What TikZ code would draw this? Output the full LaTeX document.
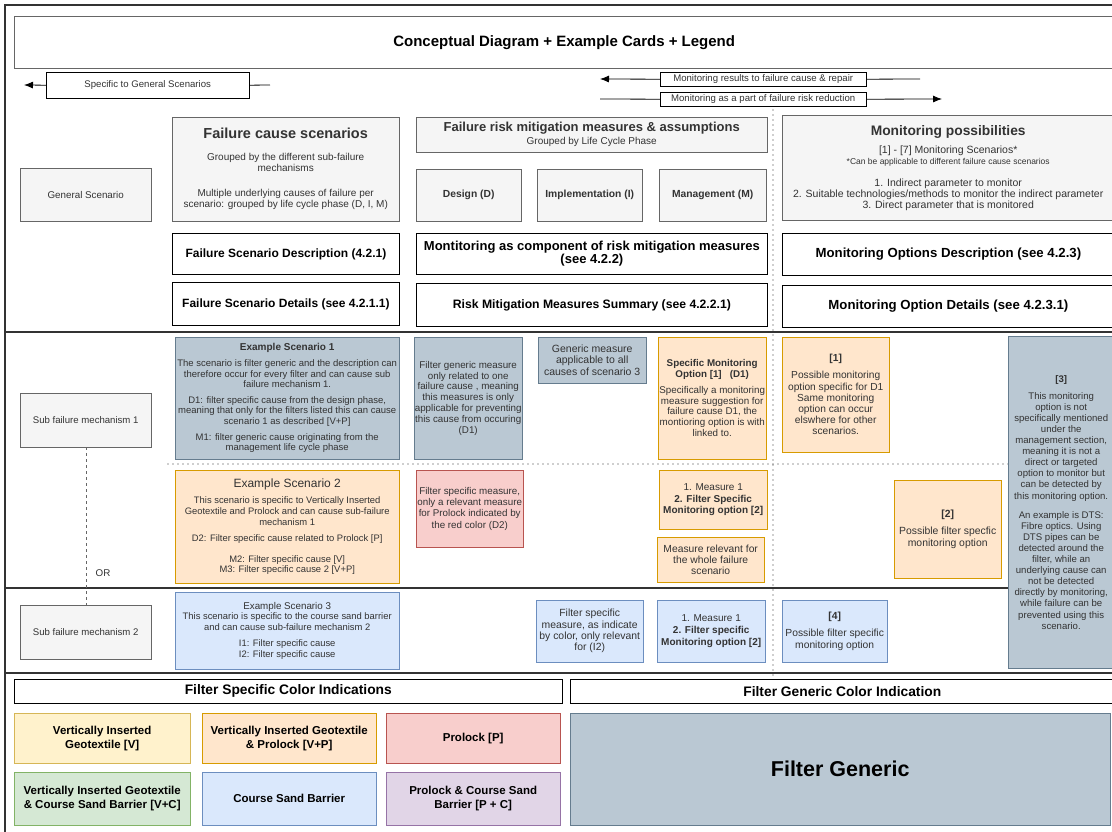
\documentclass[tikz,border=0pt]{standalone}
\usepackage{fontspec}
\setmainfont{Liberation Sans}
\usepackage{tikz}
\usepackage{xcolor}
\usetikzlibrary{shapes}
\usetikzlibrary{positioning}
\usetikzlibrary{arrows.meta}

\definecolor{gfill}{HTML}{F5F5F5}
\definecolor{gline}{HTML}{666666}
\definecolor{gtext}{HTML}{333333}
\definecolor{genfill}{HTML}{BAC8D3}
\definecolor{genline}{HTML}{23445D}
\definecolor{orfill}{HTML}{FFE6CC}
\definecolor{orline}{HTML}{D79B00}
\definecolor{redfill}{HTML}{F8CECC}
\definecolor{redline}{HTML}{B85450}
\definecolor{blufill}{HTML}{DAE8FC}
\definecolor{bluline}{HTML}{6C8EBF}
\definecolor{yelfill}{HTML}{FFF2CC}
\definecolor{yelline}{HTML}{D6B656}
\definecolor{grnfill}{HTML}{D5E8D4}
\definecolor{grnline}{HTML}{82B366}
\definecolor{purfill}{HTML}{E1D5E7}
\definecolor{purline}{HTML}{9673A6}

\newcommand{\fs}[2]{\fontsize{#1}{#2}\selectfont}

\begin{document}
\begin{tikzpicture}[x=1pt,y=-1pt,
    box/.style={anchor=north west,inner sep=0pt,align=center,text=gtext,font=\fs{9.5}{10.7}},
    wh/.style 2 args={minimum width=#1pt,minimum height=#2pt},
    graybox/.style={box,fill=gfill,draw=gline},
    headbox/.style={box,fill=white,draw=black,text=black,line width=0.8pt},
    tagbox/.style={box,fill=white,draw=black,font=\fs{9.6}{10}},
    genbox/.style={box,fill=genfill,draw=genline!70},
    orbox/.style={box,fill=orfill,draw=orline},
    redbox/.style={box,fill=redfill,draw=redline},
    blubox/.style={box,fill=blufill,draw=bluline},
    yelbox/.style={box,fill=yelfill,draw=yelline},
    grnbox/.style={box,fill=grnfill,draw=grnline},
    purbox/.style={box,fill=purfill,draw=purline},
    legbox/.style={text=black,font=\fs{11.5}{14}\bfseries},
    arrowline/.style={line width=0.8pt,-{Latex[length=9pt,width=7pt]}},
    plainline/.style={line width=0.8pt},
    rowline/.style={line width=1.4pt,draw=gtext},
    dotline/.style={line width=1.3pt,draw=gtext,line cap=round,dash pattern=on 0pt off 5pt}]

        \fill[white] (0,0) rectangle (1112,832);
        \useasboundingbox (0,0) rectangle (1112,832);
        \draw[line width=2pt,draw=gtext] (5,832) -- (5,5) -- (1112,5);

        \node[box,draw=gline,fill=white,wh={1100}{52},text=black,font=\fs{15}{18}\bfseries] (title) at (14,16) {Conceptual Diagram + Example Cards + Legend};

        \node[tagbox,wh={203}{26}] (specgen) at (46,72) {Specific to General Scenarios};
        \coordinate (specgenL) at (24,85);
        \coordinate (specgenR) at (270,85);
        \draw[arrowline] (specgen.west) -- (specgenL);
        \draw[plainline] (specgen.east) -- (specgenR);

        \node[tagbox,wh={206}{14}] (monres) at (660,72) {Monitoring results to failure cause \& repair};
        \coordinate (monresL) at (600,79);
        \coordinate (monresR) at (920,79);
        \draw[arrowline] (monres.west) -- (monresL);
        \draw[plainline] (monres.east) -- (monresR);
        \node[tagbox,wh={206}{14}] (monpart) at (660,92) {Monitoring as a part of failure risk reduction};
        \coordinate (monpartL) at (600,99);
        \coordinate (monpartR) at (942,99);
        \draw[plainline] (monpartL) -- (monpart.west);
        \draw[arrowline] (monpart.east) -- (monpartR);

        \node[graybox,wh={131}{53},font=\fs{9.8}{11}] (general) at (20,168) {General Scenario};
        \node[graybox,wh={227}{104},font=\fs{10}{11}] (causes) at (172,117) {{\fs{14.5}{16}\bfseries Failure cause scenarios}\\[11pt] Grouped by the different sub-failure\\ mechanisms\\[14pt] Multiple underlying causes of failure per\\ scenario: grouped by life cycle phase (D, I, M)};
        \node[headbox,wh={227}{41},font=\fs{12}{13}\bfseries] (scendesc) at (172,233) {Failure Scenario Description (4.2.1)};
        \node[headbox,wh={227}{43},font=\fs{12}{13}\bfseries] (scendet) at (172,282) {Failure Scenario Details (see 4.2.1.1)};

        \node[graybox,wh={351}{35},font=\fs{10}{11}] (mitig) at (416,117) {{\fs{13}{14}\bfseries Failure risk mitigation measures \& assumptions}\\[2pt] Grouped by Life Cycle Phase};
        \node[graybox,wh={105}{52},font=\fs{10.3}{11}\bfseries] (design) at (416,169) {Design (D)};
        \node[graybox,wh={105}{52},font=\fs{10.3}{11}\bfseries] (implem) at (537,169) {Implementation (I)};
        \node[graybox,wh={107}{52},font=\fs{10.3}{11}\bfseries] (manage) at (659,169) {Management (M)};
        \node[headbox,wh={351}{41},font=\fs{13}{11.5}\bfseries] (moncomp) at (416,233) {Montitoring as component of risk mitigation measures\\ (see 4.2.2)};
        \node[headbox,wh={351}{43},font=\fs{12.2}{13}\bfseries] (risksum) at (416,283) {Risk Mitigation Measures Summary (see 4.2.2.1)};

        \node[graybox,wh={332}{105},font=\fs{10.5}{10.6}] (monposs) at (782,115) {{\fs{13.8}{15}\bfseries Monitoring possibilities}\\[8pt] [1] - [7] Monitoring Scenarios*\\ {\fs{8.5}{9.5}*Can be applicable to different failure cause scenarios}\\[12pt] 1. Indirect parameter to monitor\\ 2. Suitable technologies/methods to monitor the indirect parameter\\ 3. Direct parameter that is monitored};
        \node[headbox,wh={332}{42},font=\fs{13.2}{14}\bfseries] (mondesc) at (782,233) {Monitoring Options Description (see 4.2.3)};
        \node[headbox,wh={332}{42},font=\fs{13.2}{14}\bfseries] (mondet) at (782,285) {Monitoring Option Details (see 4.2.3.1)};

        \draw[rowline] (6,332) -- (1112,332);
        \draw[rowline] (6,588) -- (1112,588);
        \draw[rowline] (6,673) -- (1112,673);
        \draw[dotline] (168,464) -- (1008,464);
        \draw[dotline] (773,110) -- (773,680);

        \node[graybox,wh={131}{54},font=\fs{9.6}{11}] (sub1) at (20,393) {Sub failure mechanism 1};
        \node[genbox,wh={224}{122},font=\fs{9.5}{10.6}] (ex1) at (175,337) {{\fs{10}{11}\bfseries Example Scenario 1}\\[5pt] The scenario is filter generic and the description can\\ therefore occur for every filter and can cause sub\\ failure mechanism 1.\\[5pt] D1: filter specific cause from the design phase,\\ meaning that only for the filters listed this can cause\\ scenario 1 as described [V+P]\\[5pt] M1: filter generic cause originating from the\\ management life cycle phase};
        \node[genbox,wh={108}{122},font=\fs{9.8}{10.8}] (genmeas) at (414,337) {Filter generic measure\\ only related to one\\ failure cause , meaning\\ this measures is only\\ applicable for preventing\\ this cause from occuring\\ (D1)};
        \node[genbox,wh={108}{46},font=\fs{10.5}{11.3}] (genall) at (538,337) {Generic measure\\ applicable to all\\ causes of scenario 3};
        \node[orbox,wh={108}{122},font=\fs{9.8}{10.5}] (specmon) at (658,337) {{\bfseries Specific Monitoring}\\ {\bfseries Option [1] \ \ (D1)}\\[6pt] Specifically a monitoring\\ measure suggestion for\\ failure cause D1, the\\ montioring option is with\\ [1] linked to.};
        \node[orbox,wh={107}{115},font=\fs{10.2}{11.2}] (mon1) at (782,337) {{\bfseries [1]}\\[6pt] Possible monitoring\\ option specific for D1\\ Same monitoring\\ option can occur\\ elswhere for other\\ scenarios.};
        \node[genbox,wh={106}{332},font=\fs{9.6}{11.1}] (mon3) at (1008,336) {{\bfseries [3]}\\[6pt] This monitoring\\ option is not\\ specifically mentioned\\ under the\\ management section,\\ meaning it is not a\\ direct or targeted\\ option to monitor but\\ can be detected by\\ this monitoring option.\\[8pt] An example is DTS:\\ Fibre optics. Using\\ DTS pipes can be\\ detected around the\\ filter, while an\\ underlying cause can\\ not be detected\\ directly by monitoring,\\ while failure can be\\ prevented using this\\ scenario.};

        \node[orbox,wh={224}{113},font=\fs{9.4}{10.6}] (ex2) at (175,470) {{\fs{12}{13}Example Scenario 2}\\[6pt] This scenario is specific to Vertically Inserted\\ Geotextile and Prolock and can cause sub-failure\\ mechanism 1\\[6pt] D2: Filter specific cause related to Prolock [P]\\[10pt] M2: Filter specific cause [V]\\ M3: Filter specific cause 2 [V+P]};
        \node[redbox,wh={107}{77},font=\fs{9.8}{11.3}] (redmeas) at (416,470) {Filter specific measure,\\ only a relevant measure\\ for Prolock indicated by\\ the red color (D2)};
        \node[orbox,wh={108}{59},font=\fs{10}{11.8}] (meas2) at (659,470) {1. Measure 1\\ {\bfseries 2. Filter Specific}\\ {\bfseries Monitoring option [2]}};
        \node[orbox,wh={107}{45},font=\fs{10.3}{11.3}] (whole) at (657,537) {Measure relevant for\\ the whole failure\\ scenario};
        \node[orbox,wh={107}{98},font=\fs{10.4}{11.3}] (mon2) at (894,480) {{\bfseries [2]}\\[6pt] Possible filter specfic\\ monitoring option};

        \node[graybox,wh={131}{54},font=\fs{9.6}{11}] (sub2) at (20,605) {Sub failure mechanism 2};
        \draw[dashed,draw=gline] (sub1.south) -- (sub2.north);
        \node[text=gtext,font=\fs{9.8}{11}] (orlabel) at (103,573) {OR};

        \node[blubox,wh={224}{77},font=\fs{9.4}{10.4}] (ex3) at (175,592) {{\fs{9.8}{11}Example Scenario 3}\\ This scenario is specific to the course sand barrier\\ and can cause sub-failure mechanism 2\\[6pt] I1: Filter specific cause\\ I2: Filter specific cause};
        \node[blubox,wh={107}{62},font=\fs{10.4}{11.3}] (blumeas) at (536,600) {Filter specific\\ measure, as indicate\\ by color, only relevant\\ for (I2)};
        \node[blubox,wh={108}{62},font=\fs{10}{11.8}] (meas3) at (657,600) {1. Measure 1\\ {\bfseries 2. Filter specific}\\ {\bfseries Monitoring option [2]}};
        \node[blubox,wh={105}{62},font=\fs{10.3}{11.3}] (mon4) at (782,600) {{\bfseries [4]}\\[6pt] Possible filter specific\\ monitoring option};

        \node[headbox,line width=0.6pt,wh={548}{24},font=\fs{13.8}{15}\bfseries] (legspec) at (14,679) {Filter Specific Color Indications};
        \node[headbox,line width=0.6pt,wh={544}{24},font=\fs{13.8}{15}\bfseries] (leggen) at (570,679) {Filter Generic Color Indication};
        \node[yelbox,legbox,wh={176}{50}] (legV) at (14,713) {Vertically Inserted\\ Geotextile [V]};
        \node[orbox,legbox,wh={174}{50}] (legVP) at (202,713) {Vertically Inserted Geotextile\\ \& Prolock [V+P]};
        \node[redbox,legbox,wh={174}{50}] (legP) at (386,713) {Prolock [P]};
        \node[grnbox,legbox,wh={176}{53}] (legVC) at (14,772) {Vertically Inserted Geotextile\\ \& Course Sand Barrier [V+C]};
        \node[blubox,legbox,wh={174}{53}] (legC) at (202,772) {Course Sand Barrier};
        \node[purbox,legbox,wh={174}{53}] (legPC) at (386,772) {Prolock \& Course Sand\\ Barrier [P + C]};
        \node[genbox,wh={540}{112},text=black,font=\fs{21.5}{24}\bfseries] (leggeneric) at (570,713) {Filter Generic};
    \end{tikzpicture}
\end{document}
